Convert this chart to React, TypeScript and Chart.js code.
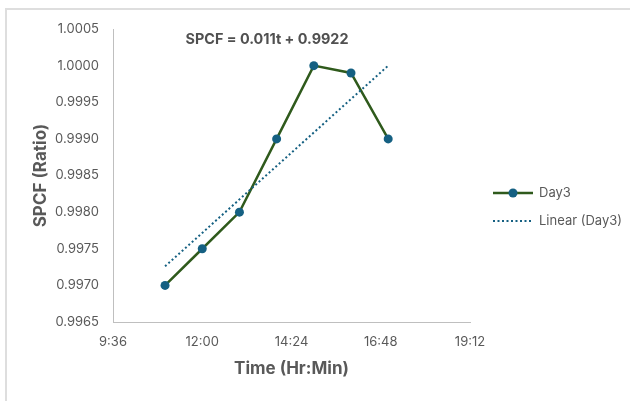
import React, { useEffect, useRef } from "react";
import { Chart, registerables } from "chart.js";
Chart.register(...registerables);

// ---- data ----
const times = ["11:00", "12:00", "13:00", "14:00", "15:00", "16:00", "17:00"];
const day3 = [0.997, 0.9975, 0.998, 0.999, 1.0, 0.9999, 0.999];
const trendTimes = ["11:00", "17:00"];
const trendValues = [0.99726, 1.0];
const xTickLabels = ["9:36", "12:00", "14:24", "16:48", "19:12"];
const yTickLabels = ["0.9965", "0.9970", "0.9975", "0.9980", "0.9985", "0.9990", "0.9995", "1.0000", "1.0005"];
const seriesName = "Day3";
const trendName = "Linear (Day3)";
const equation = "SPCF = 0.011t + 0.9922";
const xTitle = "Time (Hr:Min)";
const yTitle = "SPCF (Ratio)";

const toMin = (s: string) => {
  const [h, m] = s.split(":").map(Number);
  return h * 60 + m;
};
const fmt = (v: number) => {
  const h = Math.floor(v / 60 + 1e-9);
  const m = Math.round(v - h * 60);
  return `${h}:${String(m).padStart(2, "0")}`;
};

const FONT = "Inter, 'Open Sans', sans-serif";
const GREEN = "#2f5a1c";
const BLUE = "#156082";
const TXT = "#595959";

const overlay = {
  id: "overlay",
  afterDraw(chart: any) {
    const { ctx, chartArea } = chart;
    ctx.save();
    // equation
    ctx.fillStyle = "#505050";
    ctx.font = `bold 14.4px ${FONT}`;
    ctx.textAlign = "center";
    ctx.textBaseline = "middle";
    ctx.fillText(equation, chartArea.left + 154, chartArea.top + 11);
    // legend
    const lx = chartArea.right + 23;
    const y1 = chartArea.top + 164;
    const y2 = chartArea.top + 192;
    ctx.strokeStyle = GREEN;
    ctx.lineWidth = 2.5;
    ctx.beginPath();
    ctx.moveTo(lx, y1);
    ctx.lineTo(lx + 40, y1);
    ctx.stroke();
    ctx.fillStyle = BLUE;
    ctx.beginPath();
    ctx.arc(lx + 20, y1, 4.5, 0, Math.PI * 2);
    ctx.fill();
    ctx.strokeStyle = BLUE;
    ctx.lineWidth = 2;
    ctx.setLineDash([2, 2.5]);
    ctx.beginPath();
    ctx.moveTo(lx, y2);
    ctx.lineTo(lx + 40, y2);
    ctx.stroke();
    ctx.setLineDash([]);
    ctx.fillStyle = TXT;
    ctx.font = `13px ${FONT}`;
    ctx.textAlign = "left";
    ctx.fillText(seriesName, lx + 46, y1);
    ctx.fillText(trendName, lx + 46, y2);
    ctx.restore();
  },
};

export default function App() {
  const ref = useRef<HTMLCanvasElement>(null);
  useEffect(() => {
    if (!ref.current) return;
    const xMin = toMin(xTickLabels[0]);
    const xMax = toMin(xTickLabels[xTickLabels.length - 1]);
    const xStep = toMin(xTickLabels[1]) - xMin;
    const yMin = parseFloat(yTickLabels[0]);
    const yMax = parseFloat(yTickLabels[yTickLabels.length - 1]);
    const yStep = parseFloat(yTickLabels[1]) - yMin;
    const chart = new Chart(ref.current, {
      type: "line",
      data: {
        datasets: [
          {
            label: trendName,
            data: trendTimes.map((t, i) => ({ x: toMin(t), y: trendValues[i] })),
            borderColor: BLUE,
            borderWidth: 2,
            borderDash: [2, 2.5],
            pointRadius: 0,
            fill: false,
          },
          {
            label: seriesName,
            data: times.map((t, i) => ({ x: toMin(t), y: day3[i] })),
            borderColor: GREEN,
            borderWidth: 2.5,
            pointRadius: 4.5,
            pointBackgroundColor: BLUE,
            pointBorderColor: BLUE,
            pointBorderWidth: 0,
            fill: false,
          },
        ],
      },
      options: {
        animation: false,
        responsive: false,
        layout: { padding: { left: 0, top: 29, right: 160, bottom: 0 } },
        plugins: { legend: { display: false }, tooltip: { enabled: false } },
        scales: {
          x: {
            type: "linear",
            min: xMin,
            max: xMax,
            grid: { display: false, drawTicks: false },
            border: { display: true, color: "#bfbfbf", width: 1 },
            afterFit: (s: any) => {
              s.height = 401 - 322;
            },
            afterBuildTicks: (s: any) => {
              s.ticks = xTickLabels.map((l) => ({ value: toMin(l) }));
            },
            ticks: {
              stepSize: xStep,
              padding: 12,
              color: TXT,
              font: { family: FONT, size: 13 },
              callback: (v: any) => fmt(Number(v)),
              maxRotation: 0,
            },
            title: {
              display: true,
              text: xTitle,
              color: TXT,
              font: { family: FONT, size: 17, weight: "bold" },
              padding: { top: 0, bottom: 22 },
            },
          },
          y: {
            min: yMin,
            max: yMax,
            grid: { display: false, drawTicks: false },
            border: { display: true, color: "#bfbfbf", width: 1 },
            afterFit: (s: any) => {
              s.width = 113;
            },
            afterBuildTicks: (s: any) => {
              s.ticks = yTickLabels.map((l) => ({ value: parseFloat(l) }));
            },
            ticks: {
              stepSize: yStep,
              padding: 14,
              color: TXT,
              font: { family: FONT, size: 13 },
              callback: (v: any) => Number(v).toFixed(4),
            },
            title: {
              display: true,
              text: yTitle,
              color: TXT,
              font: { family: FONT, size: 17, weight: "bold" },
              padding: { top: 31, bottom: 0 },
            },
          },
        },
      },
      plugins: [overlay],
    });
    return () => chart.destroy();
  }, []);
  return (
    <div>
      <div
        style={{
          position: "fixed",
          left: 5,
          top: 8,
          width: 700,
          height: 500,
          border: "2px solid #dedede",
          boxSizing: "border-box",
          background: "#fff",
        }}
      />
      <canvas
        ref={ref}
        width={630}
        height={401}
        style={{ position: "fixed", left: 0, top: 0, width: 630, height: 401 }}
      />
    </div>
  );
}
